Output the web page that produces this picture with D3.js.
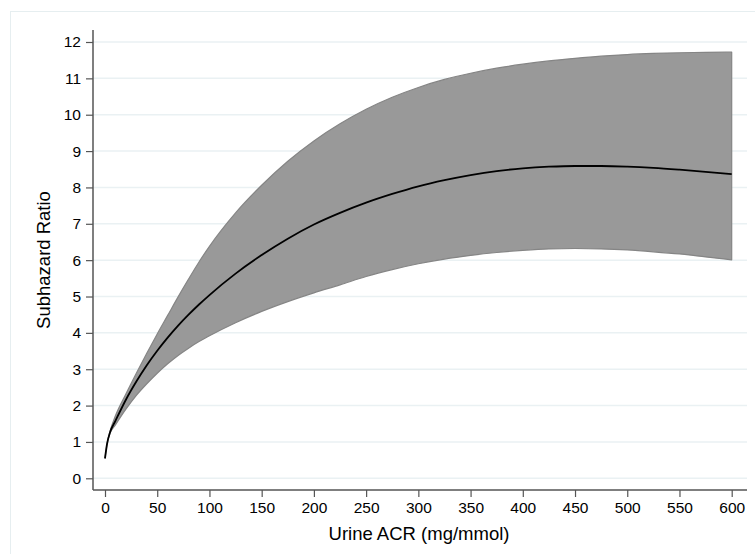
<!DOCTYPE html>
<html>
<head>
<meta charset="utf-8">
<script src="https://cdn.jsdelivr.net/npm/d3@7"></script>
<style>
  html, body { margin: 0; padding: 0; background: #fff; }
  svg { display: block; }
  text { font-family: "Liberation Sans", Arial, Helvetica, sans-serif; fill: #000; }
</style>
</head>
<body>
<svg id="chart" width="755" height="554"></svg>
<script>
// Urine ACR values (mg/mmol)
const acr = [0, 2, 5, 10, 20, 30, 40, 50, 60, 70, 80, 90, 100, 125, 150, 175, 200, 225, 250, 275, 300, 325, 350, 375, 400, 425, 450, 475, 500, 525, 550, 575, 600];
// Estimated subhazard ratio
const shr = [0.55, 0.95, 1.28, 1.58, 2.16, 2.66, 3.11, 3.51, 3.87, 4.2, 4.5, 4.78, 5.04, 5.63, 6.14, 6.59, 6.98, 7.3, 7.58, 7.82, 8.03, 8.2, 8.34, 8.45, 8.525, 8.57, 8.59, 8.59, 8.572, 8.537, 8.487, 8.43, 8.365];
// Lower 95% CI
const lower = [0.55, 0.95, 1.25, 1.47, 1.9, 2.28, 2.6, 2.89, 3.15, 3.38, 3.58, 3.76, 3.92, 4.28, 4.59, 4.86, 5.1, 5.32, 5.55, 5.74, 5.9, 6.03, 6.13, 6.21, 6.27, 6.31, 6.32, 6.31, 6.28, 6.23, 6.17, 6.09, 6.01];
// Upper 95% CI
const upper = [0.55, 0.95, 1.31, 1.72, 2.32, 2.89, 3.44, 3.97, 4.48, 4.99, 5.48, 5.95, 6.38, 7.3, 8.06, 8.72, 9.28, 9.75, 10.15, 10.48, 10.75, 10.97, 11.14, 11.28, 11.39, 11.48, 11.55, 11.61, 11.655, 11.685, 11.705, 11.715, 11.72];

const xTicks = [0, 50, 100, 150, 200, 250, 300, 350, 400, 450, 500, 550, 600];
const yTicks = [0, 1, 2, 3, 4, 5, 6, 7, 8, 9, 10, 11, 12];
const xTitle = "Urine ACR (mg/mmol)";
const yTitle = "Subhazard Ratio";

const svg = d3.select("#chart");

// outer frame
svg.append("rect")
  .attr("x", 10.5).attr("y", 11.5).attr("width", 800).attr("height", 600)
  .attr("fill", "#fff").attr("stroke", "#e6eef0").attr("stroke-width", 1);

const plot = { left: 93, right: 747, top: 30, bottom: 490 };

const x = d3.scaleLinear().domain([0, 600]).range([105, 731.7]);
const y = d3.scaleLinear().domain([0, 12]).range([478.3, 42]);

// gridlines
svg.append("g").selectAll("line").data(yTicks).join("line")
  .attr("x1", plot.left).attr("x2", plot.right)
  .attr("y1", d => y(d)).attr("y2", d => y(d))
  .attr("stroke", "#eaf1f3").attr("stroke-width", 1.5);

const data = acr.map((a, i) => ({ a, m: shr[i], lo: lower[i], hi: upper[i] }));

// CI band
svg.append("path")
  .datum(data)
  .attr("d", d3.area().x(d => x(d.a)).y0(d => y(d.lo)).y1(d => y(d.hi)).curve(d3.curveMonotoneX))
  .attr("fill", "#999999")
  .attr("stroke", "#858585").attr("stroke-width", 1.2).attr("stroke-linejoin", "round");

// estimate line
svg.append("path")
  .datum(data)
  .attr("d", d3.line().x(d => x(d.a)).y(d => y(d.m)).curve(d3.curveMonotoneX))
  .attr("fill", "none").attr("stroke", "#000").attr("stroke-width", 1.8);

// axes
const xAxis = svg.append("g").attr("transform", `translate(0,${plot.bottom})`)
  .call(d3.axisBottom(x).tickValues(xTicks).tickSize(7).tickPadding(5).tickSizeOuter(0));
xAxis.select(".domain").attr("d", `M${plot.left},0H${plot.right}`);

const yAxis = svg.append("g").attr("transform", `translate(${plot.left},0)`)
  .call(d3.axisLeft(y).tickValues(yTicks).tickSize(7).tickPadding(5).tickSizeOuter(0));
yAxis.select(".domain").attr("d", `M0,${plot.top}V${plot.bottom}`);

svg.selectAll(".domain").attr("stroke", "#555").attr("stroke-width", 1.5);
svg.selectAll(".tick line").attr("stroke", "#555").attr("stroke-width", 1.2);
svg.selectAll(".tick text")
  .style("font-family", '"Liberation Sans", Arial, sans-serif')
  .attr("font-size", 15.5).attr("fill", "#000");

// titles
svg.append("text")
  .attr("x", (plot.left + plot.right) / 2 - 1).attr("y", 540)
  .attr("text-anchor", "middle").attr("font-size", 18.5)
  .text(xTitle);

svg.append("text")
  .attr("transform", `translate(50,${(plot.top + plot.bottom) / 2}) rotate(-90)`)
  .attr("text-anchor", "middle").attr("font-size", 18.5)
  .text(yTitle);
</script>
</body>
</html>
